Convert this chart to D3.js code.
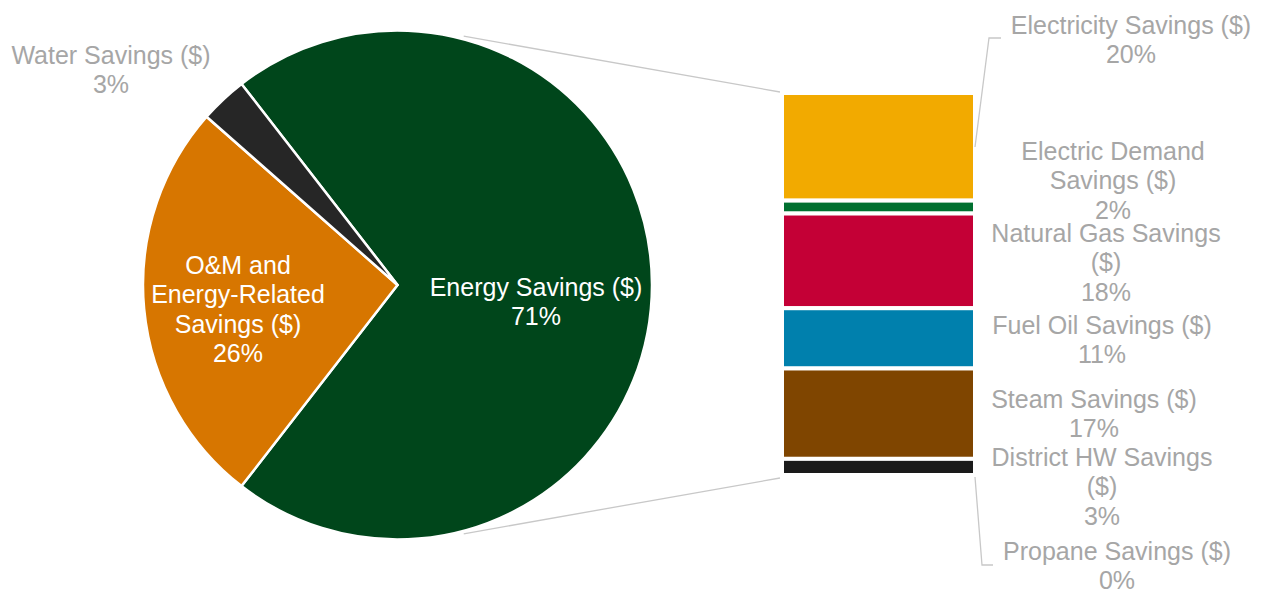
<!DOCTYPE html>
<html lang="en">
  <head>
    <meta charset="utf-8" />
    <title>Savings breakdown</title>
    <script src="https://cdnjs.cloudflare.com/ajax/libs/d3/7.8.5/d3.min.js"></script>
    <style>
      body {
        margin: 0;
        background: #fff;
      }
      svg text {
        font-family: "Liberation Sans", Arial, sans-serif;
        font-size: 25px;
      }
      .lbl {
        fill: #a6a6a6;
      }
      .lbl-in {
        fill: #ffffff;
      }
      .link {
        fill: none;
        stroke: #c8c8c8;
        stroke-width: 1.3;
      }
    </style>
  </head>
  <body>
    <svg id="chart" width="1267" height="594"></svg>
    <script>
      // pie data
      const pieNames = [
        ["Energy Savings ($)"],
        ["O&M and", "Energy-Related", "Savings ($)"],
        ["Water Savings ($)"],
      ];
      const pieValues = [71, 26, 3];
      const pieColors = ["#00461b", "#d77600", "#262626"];

      // bar (split of energy savings)
      const barNames = [
        ["Electricity Savings ($)"],
        ["Electric Demand", "Savings ($)"],
        ["Natural Gas Savings", "($)"],
        ["Fuel Oil Savings ($)"],
        ["Steam Savings ($)"],
        ["District HW Savings", "($)"],
        ["Propane Savings ($)"],
      ];
      const barValues = [20.0, 2.4, 17.6, 11.2, 16.8, 3.0, 0.0];
      const barColors = ["#f2aa00", "#007030", "#c40036", "#0080ad", "#7f4500", "#1a1a1a", "#7f7f7f"];

      // layout
      const cx = 397.5, cy = 285, R = 254.5;
      const barX0 = 782, barX1 = 975, barY0 = 93, barY1 = 475;
      const lineH = 29.3;
      const pieLabelPos = [[536, 287], [238, 265], [111, 55]];
      const barLabelPos = [[1131, 25], [1113, 151], [1106, 233], [1102, 325], [1094, 399], [1102, 457], [1117, 551]];

      const svg = d3.select("#chart");
      const fmt = (v, total) => Math.round((v / total) * 100) + "%";
      const total = d3.sum(pieValues);

      // connector lines, along the tangent from pie -> bar corners
      const corners = [[780, 92], [780, 478]];
      corners.forEach((p, k) => {
        const dx = p[0] - cx, dy = p[1] - cy;
        const d = Math.hypot(dx, dy);
        const phi = Math.atan2(dy, dx);
        const a = Math.acos((R + 2) / d);
        const t = k === 0 ? phi - a : phi + a;
        const tx = cx + (R + 2) * Math.cos(t), ty = cy + (R + 2) * Math.sin(t);
        const len = Math.hypot(p[0] - tx, p[1] - ty);
        const s = 22 / len; // Excel starts the line a bit past the touch point
        svg.append("line")
          .attr("class", "link")
          .attr("x1", tx + (p[0] - tx) * s)
          .attr("y1", ty + (p[1] - ty) * s)
          .attr("x2", p[0])
          .attr("y2", p[1]);
      });

      // pie
      const frac = pieValues[0] / total;
      const pie = d3.pie().sort(null)
        .startAngle(Math.PI / 2 - frac * Math.PI)
        .endAngle(Math.PI / 2 - frac * Math.PI + 2 * Math.PI);
      const arcs = pie(pieValues);
      const arc = d3.arc().innerRadius(0).outerRadius(R);
      const g = svg.append("g").attr("transform", `translate(${cx},${cy})`);
      g.selectAll("path")
        .data(arcs)
        .join("path")
        .attr("d", arc)
        .attr("fill", (d, i) => pieColors[i])
        .attr("stroke", "#fff")
        .attr("stroke-width", 2.5)
        .attr("stroke-linejoin", "round");

      // bar
      const y = d3.scaleLinear().domain([0, d3.sum(barValues)]).range([barY0, barY1]);
      const cum = [0, ...d3.cumsum(barValues)];
      svg.append("g")
        .selectAll("rect")
        .data(barValues)
        .join("rect")
        .attr("x", barX0)
        .attr("width", barX1 - barX0)
        .attr("y", (d, i) => y(cum[i]))
        .attr("height", (d) => y(d) - y(0))
        .attr("fill", (d, i) => barColors[i])
        .attr("stroke", "#fff")
        .attr("stroke-width", 4)
        .style("display", (d) => (d > 0 ? null : "none"));

      // leader lines for the labels
      svg.append("path").attr("class", "link")
        .attr("d", "M975,147L989,38L1001,38");
      svg.append("path").attr("class", "link")
        .attr("d", "M975,477L982,565L993,565");

      // labels
      function label(lines, pos, cls) {
        const t = svg.append("text")
          .attr("class", cls)
          .attr("text-anchor", "middle")
          .attr("x", pos[0])
          .attr("y", pos[1] + 9);
        lines.forEach((s, i) => {
          t.append("tspan")
            .attr("x", pos[0])
            .attr("dy", i === 0 ? 0 : lineH)
            .text(s);
        });
      }
      pieNames.forEach((n, i) => {
        label([...n, fmt(pieValues[i], total)], pieLabelPos[i], i < 2 ? "lbl-in" : "lbl");
      });
      barNames.forEach((n, i) => {
        label([...n, fmt(barValues[i], total)], barLabelPos[i], "lbl");
      });
    </script>
  </body>
</html>
